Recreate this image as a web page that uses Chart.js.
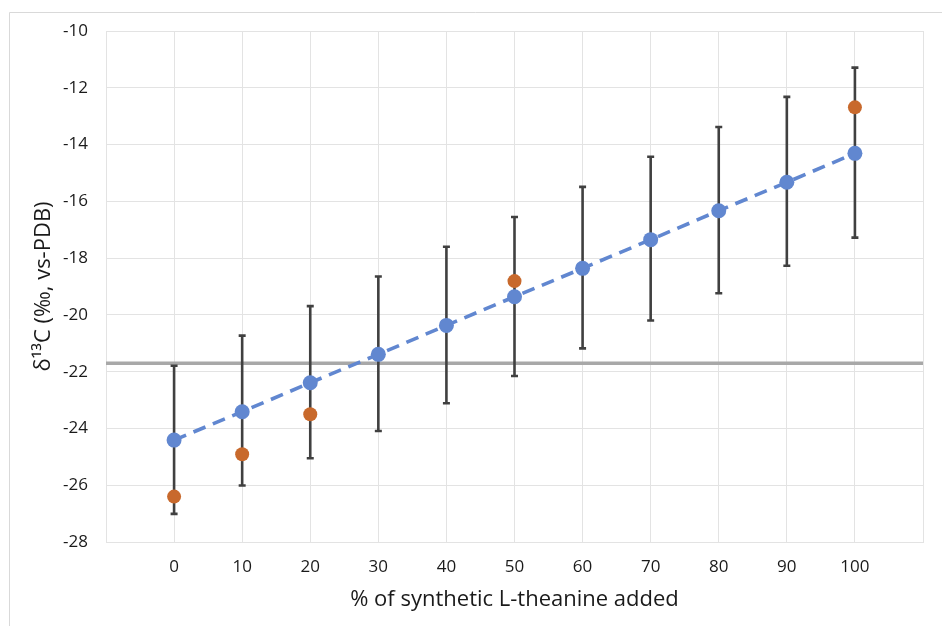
<!DOCTYPE html>
<html>
<head>
<meta charset="utf-8">
<script src="https://cdn.jsdelivr.net/npm/chart.js@4.4.1/dist/chart.umd.min.js"></script>
<style>
  body { margin: 0; background: #fff; }
</style>
</head>
<body>
<canvas id="myChart" width="942" height="626"></canvas>
<script>
// values
const xPercent = [0, 10, 20, 30, 40, 50, 60, 70, 80, 90, 100];
const blueMean = [-24.41, -23.41, -22.39, -21.39, -20.37, -19.36, -18.36, -17.35, -16.33, -15.33, -14.31];
const errTop = [-21.79, -20.73, -19.69, -18.65, -17.6, -16.55, -15.49, -14.43, -13.38, -12.32, -11.29];
const errBottom = [-27.01, -26.01, -25.05, -24.09, -23.11, -22.15, -21.18, -20.2, -19.24, -18.27, -17.28];
const orangeX = [0, 10, 20, 50, 100];
const orangeY = [-26.4, -24.91, -23.5, -18.81, -12.69];
const refLineY = -21.7;
const refLineX = [-10, 110];

const fontFam = "'Open Sans', sans-serif";

// error bars are drawn right before the blue series so the dots sit on top
const errorBars = {
  id: "errorBars",
  beforeDatasetDraw: function (chart, args) {
    if (args.index !== 1) return;
    const ctx = chart.ctx;
    const xs = chart.scales.x;
    const ys = chart.scales.y;
    ctx.save();
    ctx.strokeStyle = "#404040";
    ctx.lineWidth = 2.6;
    for (let i = 0; i < xPercent.length; i++) {
      const px = xs.getPixelForValue(xPercent[i]);
      const t = ys.getPixelForValue(errTop[i]);
      const b = ys.getPixelForValue(errBottom[i]);
      ctx.beginPath();
      ctx.moveTo(px, t);
      ctx.lineTo(px, b);
      ctx.moveTo(px - 3.5, t);
      ctx.lineTo(px + 3.5, t);
      ctx.moveTo(px - 3.5, b);
      ctx.lineTo(px + 3.5, b);
      ctx.stroke();
    }
    ctx.restore();
  },
};

// light frame around the whole chart (only top/left visible in the crop)
const frame = {
  id: "frame",
  beforeDraw: function (chart) {
    const ctx = chart.ctx;
    ctx.save();
    ctx.fillStyle = "#fff";
    ctx.fillRect(0, 0, chart.width, chart.height);
    ctx.strokeStyle = "#d9d9d9";
    ctx.lineWidth = 1;
    ctx.beginPath();
    ctx.moveTo(9.5, chart.height);
    ctx.lineTo(9.5, 12.5);
    ctx.lineTo(chart.width, 12.5);
    ctx.stroke();
    ctx.restore();
  },
};

let ctx = document.getElementById("myChart");

var config = {
  type: "scatter",
  data: {
    datasets: [
      {
        data: orangeX.map((x, i) => ({ x: x, y: orangeY[i] })),
        backgroundColor: "#c8692c",
        pointRadius: 7,
        pointBorderWidth: 0,
        showLine: false,
      },
      {
        data: xPercent.map((x, i) => ({ x: x, y: blueMean[i] })),
        backgroundColor: "#6187d0",
        borderColor: "#6187d0",
        borderWidth: 3.6,
        borderDash: [13, 8],
        pointRadius: 7.5,
        pointBorderWidth: 0,
        showLine: true,
      },
      {
        data: refLineX.map((x) => ({ x: x, y: refLineY })),
        borderColor: "#a8a8a8",
        borderWidth: 3.5,
        pointRadius: 0,
        showLine: true,
      },
    ],
  },
  options: {
    responsive: false,
    animation: false,
    layout: {
      padding: { top: 31, right: 19, left: 0, bottom: 0 },
    },
    scales: {
      x: {
        type: "linear",
        min: -10,
        max: 110,
        grid: { color: "#e3e3e3", drawTicks: false },
        border: { color: "#e3e3e3" },
        ticks: {
          stepSize: 10,
          padding: 15,
          color: "#1a1a1a",
          font: { family: fontFam, size: 17 },
          callback: function (v) {
            return v < 0 || v > 100 ? "" : v;
          },
        },
        title: {
          display: true,
          text: "% of synthetic L-theanine added",
          color: "#1a1a1a",
          font: { family: fontFam, size: 22 },
          padding: { top: 0, bottom: 13 },
        },
        afterFit: function (scale) {
          scale.height = 84;
        },
      },
      y: {
        min: -28,
        max: -10,
        grid: { color: "#e3e3e3", drawTicks: false },
        border: { color: "#e3e3e3" },
        ticks: {
          stepSize: 2,
          padding: 18,
          color: "#1a1a1a",
          font: { family: fontFam, size: 17 },
        },
        title: {
          display: true,
          text: "\u03b4\u00b9\u00b3C (\u2030, vs-PDB)",
          color: "#1a1a1a",
          font: { family: fontFam, size: 22 },
          padding: { top: 31, bottom: 0 },
        },
        afterFit: function (scale) {
          scale.width = 106;
        },
      },
    },
    plugins: {
      legend: { display: false },
      tooltip: { enabled: false },
    },
  },
  plugins: [frame, errorBars],
};

const myChart = new Chart(ctx, config);
</script>
</body>
</html>
